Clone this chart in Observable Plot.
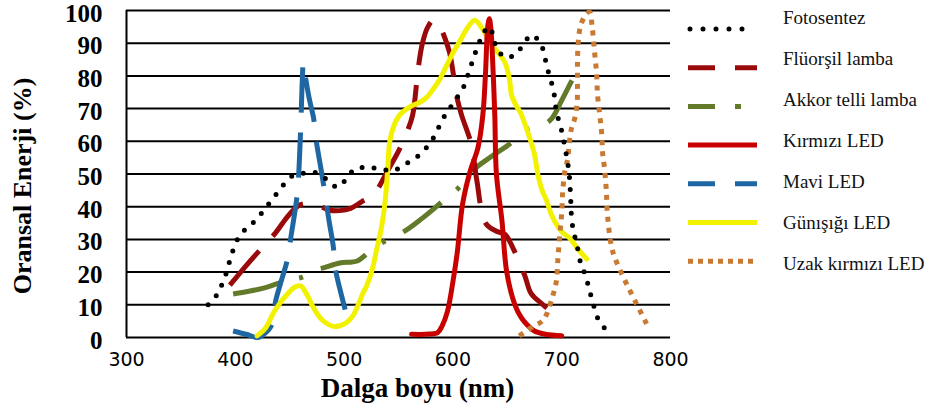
<!DOCTYPE html>
<html><head><meta charset="utf-8">
<script src="https://cdn.jsdelivr.net/npm/d3@7"></script>
<script src="https://cdn.jsdelivr.net/npm/@observablehq/plot@0.6"></script>
<style>
body{margin:0;background:#fff;}
#wrap{position:relative;width:931px;height:410px;overflow:hidden;background:#fff;}
#wrap svg{position:absolute;top:0;}
</style></head><body><div id="wrap"></div>
<script>
// ---- axis ticks ----
const xTicks = [300, 400, 500, 600, 700, 800];
const yTicks = [0, 10, 20, 30, 40, 50, 60, 70, 80, 90, 100];
const xLabel = "Dalga boyu (nm)";
const yLabel = "Oransal Enerji (%)";

// ---- series names ----
const seriesNames = ["Fotosentez", "Flüorşil lamba", "Akkor telli lamba", "Kırmızı LED", "Mavi LED", "Günışığı LED", "Uzak kırmızı LED"];

// ---- data (wavelength nm, relative energy %) ----
const fotoNm = [375,383,392,394.5,402,409,416,424,431,438,445,453,465,476,485,494,502,510,521,533,545,556,566,574,582,591,597,603,609,613,617,620,624,627.5,634,637,641,649.5,659,665,673,680,684,686,689,692,694,695,698,701,703,705,706.5,707.5,708,708.5,709,710.5,713,715.5,718,722,725,728,731,735,741];
const fotoVal = [10,13,20,23,30,33,35,38,41,44,47,49.5,50.3,50.3,48,46,48.5,51.6,52,51.6,51,53,55,57.4,61,67,70,73,76,79.5,83.5,86.5,90,93,95,92,88,85.6,87,90,92.5,90,87,83,80,76,72.5,69,65.7,61.7,58,54.6,51,47.6,44,40.6,37,33,29.6,26,22,19,15,11.5,8,4.5,2.4];

const flNm = [395,410,426,437,448,458,466,476,486,496,506,516,524,530,540,550,558,563,568,572,577,582,587,591,597,604,608,617,622,630,640,648,655,666,672,683,694];
const flVal = [16,22,28,32,37,40.3,41,40.5,39,38.8,39.5,41.5,43,45,51,57,63,68,82,90,95,97,96,93,87,73,68,59,48,35,32.5,31.5,27.5,19,13.4,10,7];

const akNm = [398,410,425,441,452,462,472,481,496,512,524,540,556,572,590,606,618,636,654,669,683,691,700,710];
const akVal = [13.3,14,15,16.7,17.8,18.5,20.5,21.3,22.8,23.4,26.5,30,32.6,36.5,41.5,46,51,55.5,59.6,63.8,65,67,72.5,79];

const krNm = [562,575,586,590,595,600,604,609,616,623,627.5,630,632,633.5,635,637,638.5,640,645,649.5,657,663,668,675,685,700];
const krVal = [1,1,1.5,3.5,8,17,26,41,51,58,68,81,95,97.5,94,81,68,50,36,20,10,6,4,2,1,0.5];

const mvNm = [398,410,421,428,432,435,437,442,448,451,457,459,460.5,461.5,462.5,464,468,472,474,478,481,486,490,492,496,501];
const mvVal = [2,1,0,1.5,3,5.5,11,17,24,30.5,44,55,68,78,84,80.6,73,67,61,53,47,36,28,21,15,8.5];

const gnNm = [420,428,435,441,448,454,460,466,472,478,483,490,496,502,508,513,517,521,526,530,534,537.5,540,542,546,551,556,563,570,576,582,588,594,600,607,613,620,627,632,637,643,648,652,654,658,662,669,675,678,682,686,690,695,701,707,715,723];
const gnVal = [0.5,3,7.5,10.5,13.3,15.3,15.8,13,9,6,4.5,3.4,3.6,4.5,6.6,10,13.3,16,21,27,33,41,51,60,65,68,69.5,71,72,73.5,76,79,83,87,91,94.5,97,94.5,91.5,89,86.5,84,79,74,71,68.8,62.6,56,50,45,42,38,34.7,32,30.5,27,24];

const uzNm = [661,672,682,686,692,695,696.5,698,700,701,703,705.5,707,709,712,714,714.5,714.5,714.5,714.5,715,716,718,722,725.7,728,730,732,733,735,736.7,737.6,739.4,741,742,746,750.5,759.6,768.8,778];
const uzVal = [0.5,3,5,7,13,17,24,30.5,38,45,51,54.6,59.6,64,67,71,74.5,78,82,85,89,93,96,98.5,99.5,95,88,81,74,68,62.6,56.5,51.6,45,37.8,27.5,23,16.4,10.3,4.2];

// ---- styles (separate from data) ----
const seriesStyles = [
  {color: "#000000", width: 5, dash: "0 12", cap: "round", legendDash: "0 13", legendCap: "round"},
  {color: "#9a0a0a", width: 5, dash: "45 20", cap: "butt", legendDash: "27 20", legendCap: "butt"},
  {color: "#627a2a", width: 5, dash: "48 20 4 20", cap: "butt", legendDash: "27 20 6 100", legendCap: "butt"},
  {color: "#c80000", width: 5, dash: null, cap: "round", legendDash: null, legendCap: "butt"},
  {color: "#1f67a3", width: 5, dash: "45 20", cap: "butt", legendDash: "27 20", legendCap: "butt"},
  {color: "#f2f200", width: 5, dash: null, cap: "round", legendDash: null, legendCap: "butt"},
  {color: "#c97a32", width: 5, dash: "5 6", cap: "butt", legendDash: "5 5", legendCap: "butt"}
];
const seriesData = [[fotoNm, fotoVal],[flNm, flVal],[akNm, akVal],[krNm, krVal],[mvNm, mvVal],[gnNm, gnVal],[uzNm, uzVal]];
const drawOrder = [2, 1, 4, 5, 3, 6, 0];

const rowsOf = (i) => seriesData[i][0].map((x, k) => ({series: seriesNames[i], nm: x, val: seriesData[i][1][k]}));

const lineMarks = drawOrder.map(i => {
  const s = seriesStyles[i];
  const o = {x: "nm", y: "val", stroke: s.color, strokeWidth: s.width, curve: "catmull-rom", strokeLinecap: s.cap, strokeLinejoin: "round"};
  if (s.dash) o.strokeDasharray = s.dash;
  return Plot.line(rowsOf(i), o);
});

const chart = Plot.plot({
  width: 700, height: 410,
  marginLeft: 126, marginRight: 30, marginTop: 10, marginBottom: 73,
  style: {background: "transparent", color: "#000", overflow: "visible"},
  x: {domain: [300, 800]},
  y: {domain: [0, 100]},
  marks: [
    Plot.ruleY(yTicks, {stroke: "#000", strokeWidth: 2}),
    Plot.ruleX([300], {stroke: "#000", strokeWidth: 2}),
    Plot.axisY({ticks: yTicks, tickSize: 0, tickPadding: 24, fontSize: 25, fontWeight: "bold", fontFamily: "Liberation Serif", label: null, dy: 3}),
    Plot.axisX({ticks: xTicks, tickSize: 0, tickPadding: 15, fontSize: 19, fontFamily: "DejaVu Sans", label: null}),
    ...lineMarks,
    Plot.text([yLabel], {text: d => d, frameAnchor: "left", textAnchor: "middle", lineAnchor: "middle", rotate: -90, dx: -104, dy: 12, fontSize: 26, fontWeight: "bold", fontFamily: "Liberation Serif"}),
    Plot.text([xLabel], {text: d => d, frameAnchor: "bottom", textAnchor: "middle", lineAnchor: "middle", dx: 19, dy: 51, fontSize: 27, fontWeight: "bold", fontFamily: "Liberation Serif"})
  ]
});
chart.style.left = "0px";
const wrap = document.getElementById("wrap");
wrap.appendChild(chart);

// ---- legend ----
const legend = d3.create("svg").attr("width", 251).attr("height", 410).style("left", "680px");
seriesNames.forEach((name, i) => {
  const s = seriesStyles[i];
  const ly = 29 + 38.7 * i;
  const ln = legend.append("line")
    .attr("x1", i === 0 ? 10 : 8).attr("x2", i === 0 ? 75 : 77)
    .attr("y1", ly).attr("y2", ly)
    .attr("stroke", s.color).attr("stroke-width", 5)
    .attr("stroke-linecap", s.legendCap);
  if (s.legendDash) ln.attr("stroke-dasharray", s.legendDash);
  legend.append("text")
    .attr("x", 103).attr("y", 20 + 41 * i)
    .attr("dominant-baseline", "middle")
    .attr("font-family", "Liberation Serif").attr("font-size", 19)
    .attr("fill", "#111")
    .text(name);
});
wrap.appendChild(legend.node());
</script></body></html>
